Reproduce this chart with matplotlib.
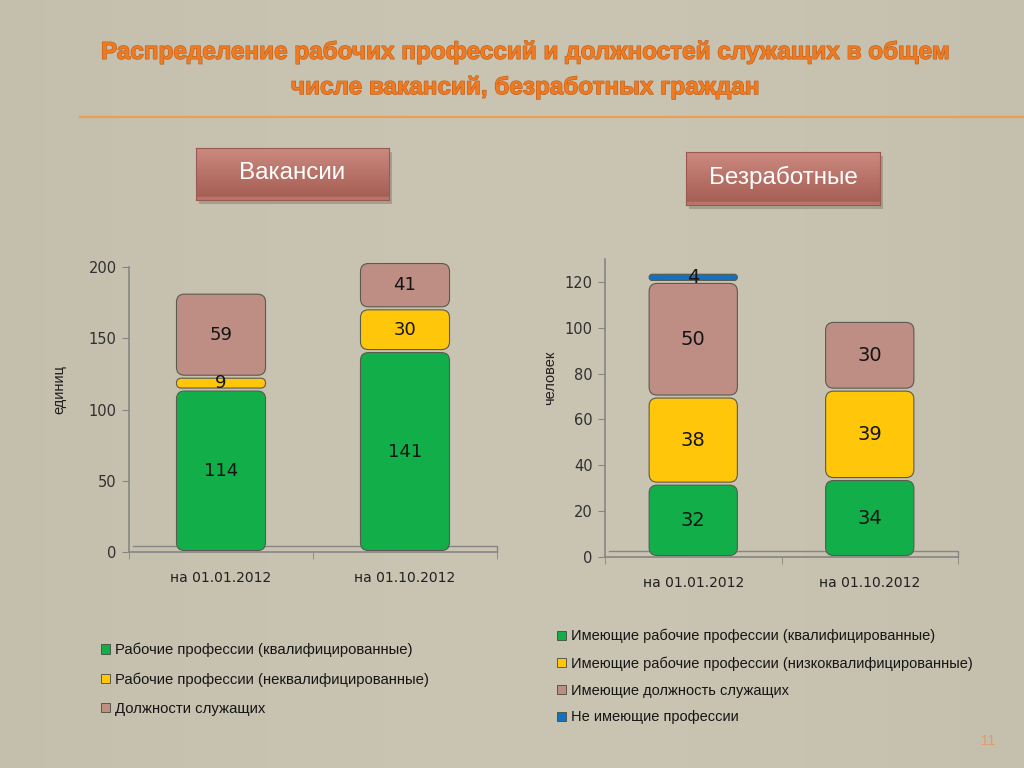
import matplotlib
matplotlib.use("Agg")
import matplotlib.pyplot as plt
import numpy as np
from matplotlib.patches import FancyBboxPatch, Patch, Rectangle
import matplotlib.patheffects as pe

# ---------------- data ----------------
categories = ["на 01.01.2012", "на 01.10.2012"]

vac_labels = ["Рабочие профессии (квалифицированные)",
              "Рабочие профессии (неквалифицированные)",
              "Должности служащих"]
vac_skilled = [114, 141]
vac_unskilled = [9, 30]
vac_office = [59, 41]

unemp_labels = ["Имеющие рабочие профессии (квалифицированные)",
                "Имеющие рабочие профессии (низкоквалифицированные)",
                "Имеющие должность служащих",
                "Не имеющие профессии"]
un_skilled = [32, 34]
un_lowskilled = [38, 39]
un_office = [50, 30]
un_none = [4, 0]

title = "Распределение рабочих профессий и должностей служащих в общем\nчисле вакансий, безработных граждан"
page_no = "11"

GREEN = "#12AE4A"
YELLOW = "#FFC60A"
ROSE = "#BE8E84"
BLUE = "#1272C0"
BG = "#C5BFAD"
AXC = "#858585"

W, H = 1024, 768
fig = plt.figure(figsize=(W / 100, H / 100), dpi=100)
fig.patch.set_facecolor(BG)

def fx(px):
    return px / W

def fy(py):
    return 1 - py / H

# background subtle gradient
bgax = fig.add_axes([0, 0, 1, 1], zorder=-10)
grad = np.linspace(0, 1, 256)[None, :]
bgax.imshow(np.dstack([0.77 + 0.02 * np.sin(grad * 3),
                       0.75 + 0.02 * np.sin(grad * 3),
                       0.68 + 0.02 * np.sin(grad * 3)]),
            aspect="auto", extent=[0, 1, 0, 1])
bgax.axis("off")

# title
fig.text(0.513, fy(70), title, ha="center", va="center", fontsize=17.5,
         fontweight="bold", color="#EE7A22", family="Liberation Sans",
         linespacing=1.68,
         path_effects=[pe.withStroke(linewidth=0.9, foreground="#C0601C")])
fig.add_artist(plt.Line2D([fx(80), 1.0], [fy(117), fy(117)], color="#E8A055", lw=1.6))

# header boxes
def header_box(x0, y0, x1, y1, text):
    sh = Rectangle((fx(x0 + 3), fy(y1 + 4)), fx(x1 - x0), fy(y0) - fy(y1),
                   transform=fig.transFigure, facecolor="#8E8878",
                   edgecolor="none", alpha=0.6, zorder=-5)
    fig.add_artist(sh)
    bax = fig.add_axes([fx(x0), fy(y1), fx(x1 - x0), fy(y0) - fy(y1)], zorder=1)
    g = np.linspace(0, 1, 64)
    top = np.array([0.80, 0.54, 0.50])
    bot = np.array([0.64, 0.36, 0.32])
    col = top[None, :] + (bot - top)[None, :] * g[:, None]
    col[-4:] = np.array([0.72, 0.46, 0.42])
    col = np.repeat(col[:, None, :], 4, axis=1)
    bax.imshow(col, aspect="auto", extent=[0, 1, 0, 1])
    bax.set_xticks([]); bax.set_yticks([])
    for s in bax.spines.values():
        s.set_color("#9A5A50")
    bax.text(0.5, 0.52, text, ha="center", va="center", color="white",
             fontsize=17.5, family="Liberation Sans")

header_box(196, 148, 389, 200, "Вакансии")
header_box(686, 152, 880, 205, "Безработные")

# ---------------- charts ----------------
def style_axes(ax, yticks, ylabel, ylim):
    ax.set_facecolor("none")
    ax.set_xlim(-0.5, 1.5)
    ax.set_ylim(*ylim)
    ax.set_yticks(yticks)
    ax.set_xticks([0, 1])
    ax.set_xticklabels(categories, family="DejaVu Sans", fontsize=10, color="#202020")
    ax.set_xticks([-0.5, 0.5, 1.5], minor=True)
    ax.tick_params(axis="x", which="major", length=0, pad=14)
    ax.tick_params(axis="x", which="minor", length=5, color=AXC, direction="out")
    ax.tick_params(axis="y", length=5, color=AXC, labelsize=10.5, labelcolor="#303030", pad=4)
    for lab in ax.get_yticklabels():
        lab.set_family("DejaVu Sans")
    for s in ["top", "right"]:
        ax.spines[s].set_visible(False)
    for s in ["left", "bottom"]:
        ax.spines[s].set_color(AXC)
        ax.spines[s].set_linewidth(1.2)
    ax.set_ylabel(ylabel, fontsize=10.5, family="Liberation Sans", color="#202020")

def draw_stack(ax, series, colors, width, px_x, px_y, clip_top, fsize):
    for i in range(len(categories)):
        bottom = 0
        for vals, c in zip(series, colors):
            v = vals[i]
            if v <= 0:
                continue
            top = min(bottom + v, clip_top)
            h = top - bottom
            gap = 1.5 / px_y
            y0 = bottom + gap
            hh = h - 2 * gap
            h_px = hh * px_y
            w_px = width * px_x
            r_px = min(8.0, h_px / 2 - 0.05, w_px / 2)
            rx = r_px / px_x
            p = FancyBboxPatch((i - width / 2, y0), width, hh,
                               boxstyle=f"round,pad=0,rounding_size={rx}",
                               mutation_aspect=px_x / px_y,
                               facecolor=c, edgecolor="#5A5A50", linewidth=0.8,
                               clip_on=False, zorder=3)
            ax.add_patch(p)
            ax.text(i, bottom + h / 2, str(v), ha="center", va="center",
                    fontsize=fsize, family="DejaVu Sans", color="#151515", zorder=4)
            bottom += v

def floor(ax, px_y, x_start):
    d = 6.5 / px_y
    ax.plot([x_start, 1.5, 1.5], [d, d, 0], color=AXC, lw=1.0, clip_on=False, zorder=2)

# left chart: x 129..497, y0 at 552, 200 at 267
axL = fig.add_axes([fx(129), fy(552), fx(497 - 129), fy(267) - fy(552)])
style_axes(axL, [0, 50, 100, 150, 200], "единиц", (0, 200))
pxLx = (497 - 129) / 2.0
pxLy = (552 - 267) / 200.0
draw_stack(axL, [vac_skilled, vac_unskilled, vac_office], [GREEN, YELLOW, ROSE],
           0.484, pxLx, pxLy, 203.5, 13)
floor(axL, pxLy, -0.48)
axL.yaxis.set_label_coords(-0.17, 0.57)

# right chart: x 605..958, y0 at 557, 130 at 259
axR = fig.add_axes([fx(605), fy(557), fx(958 - 605), fy(259) - fy(557)])
style_axes(axR, [0, 20, 40, 60, 80, 100, 120], "человек", (0, 130))
pxRx = (958 - 605) / 2.0
pxRy = (557 - 259) / 130.0
draw_stack(axR, [un_skilled, un_lowskilled, un_office, un_none],
           [GREEN, YELLOW, ROSE, BLUE], 0.5, pxRx, pxRy, 1e9, 14)
floor(axR, pxRy, -0.48)
axR.yaxis.set_label_coords(-0.135, 0.6)

# legends
def legend(labels, colors, x, y, spacing, size):
    handles = [Patch(facecolor=c, edgecolor="#4A4A40", linewidth=0.6) for c in colors]
    lg = fig.legend(handles, labels, loc="upper left",
                    bbox_to_anchor=(fx(x), fy(y)), frameon=False,
                    handlelength=0.6, handleheight=0.6, handletextpad=0.35,
                    labelspacing=spacing, borderpad=0, borderaxespad=0,
                    prop={"family": "Liberation Sans", "size": size})
    for t in lg.get_texts():
        t.set_color("#151515")
    return lg

legend(vac_labels, [GREEN, YELLOW, ROSE], 101, 643, 1.0, 10.7)
legend(unemp_labels, [GREEN, YELLOW, ROSE, BLUE], 557, 629, 0.88, 10.5)

fig.text(fx(988), fy(741), page_no, ha="center", va="center", fontsize=10,
         color="#E39A68", family="Liberation Sans")

fig.savefig("out.png", dpi=100, facecolor=BG)
